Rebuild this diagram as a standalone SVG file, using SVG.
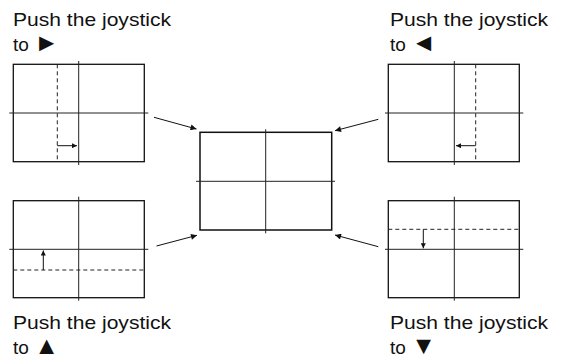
<svg xmlns="http://www.w3.org/2000/svg" width="561" height="358" viewBox="0 0 561 358">
<style>
.frame{fill:none;stroke:#111;stroke-width:1.3}
.cross{stroke:#222;stroke-width:1;fill:none}
.dash{stroke:#222;stroke-width:1;stroke-dasharray:4 3;fill:none}
.conn{stroke:#111;stroke-width:1;fill:none}
.lbl{font-family:"Liberation Sans",Arial,sans-serif;font-size:19px;fill:#111}
.tri{font-size:25px}
</style>
<defs>
<marker id="ah" viewBox="0 0 10 10" refX="10" refY="5" markerWidth="8" markerHeight="6" markerUnits="userSpaceOnUse" orient="auto">
<path d="M0,0 L10,5 L0,10 z" fill="#111"/>
</marker>
<marker id="sh" viewBox="0 0 10 10" refX="10" refY="5" markerWidth="7" markerHeight="5" markerUnits="userSpaceOnUse" orient="auto">
<path d="M0,0 L10,5 L0,10 z" fill="#111"/>
</marker>
</defs>
<rect width="561" height="358" fill="#fff"/>

<g id="screen-right">
<text class="lbl" x="13" y="26" textLength="158" lengthAdjust="spacingAndGlyphs">Push the joystick</text>
<text class="lbl" x="13" y="51">to <tspan class="tri">►</tspan></text>
<rect class="frame" x="13.3" y="64.3" width="131" height="97.4"/>
<line class="cross" x1="78.7" y1="61" x2="78.7" y2="165"/>
<line class="cross" x1="9.3" y1="113" x2="148.3" y2="113"/>
<line class="dash" x1="57.3" y1="64.3" x2="57.3" y2="161.7"/>
<line class="conn" x1="57.3" y1="145.7" x2="77" y2="145.7" marker-end="url(#sh)"/>
</g>

<g id="screen-left">
<text class="lbl" x="390" y="26" textLength="158" lengthAdjust="spacingAndGlyphs">Push the joystick</text>
<text class="lbl" x="390" y="51">to <tspan class="tri">◄</tspan></text>
<rect class="frame" x="388.3" y="64.3" width="131" height="97.4"/>
<line class="cross" x1="454.3" y1="61" x2="454.3" y2="165"/>
<line class="cross" x1="385" y1="113" x2="523.3" y2="113"/>
<line class="dash" x1="475.7" y1="64.3" x2="475.7" y2="161.7"/>
<line class="conn" x1="475.7" y1="145.7" x2="456" y2="145.7" marker-end="url(#sh)"/>
</g>

<g id="screen-up">
<rect class="frame" x="13.3" y="200.7" width="131" height="97"/>
<line class="cross" x1="78.7" y1="196.7" x2="78.7" y2="300.7"/>
<line class="cross" x1="9.3" y1="249.3" x2="148.3" y2="249.3"/>
<line class="dash" x1="13.3" y1="270" x2="144.3" y2="270"/>
<line class="conn" x1="43.3" y1="270" x2="43.3" y2="250.5" marker-end="url(#sh)"/>
<text class="lbl" x="13" y="329" textLength="158" lengthAdjust="spacingAndGlyphs">Push the joystick</text>
<text class="lbl" x="13" y="354">to <tspan class="tri">▲</tspan></text>
</g>

<g id="screen-down">
<rect class="frame" x="388.3" y="200.7" width="131" height="97"/>
<line class="cross" x1="454.3" y1="196.7" x2="454.3" y2="300.7"/>
<line class="cross" x1="385" y1="249.3" x2="523.3" y2="249.3"/>
<line class="dash" x1="388.3" y1="229.3" x2="519.3" y2="229.3"/>
<line class="conn" x1="423.3" y1="229.3" x2="423.3" y2="248.3" marker-end="url(#sh)"/>
<text class="lbl" x="390" y="329" textLength="158" lengthAdjust="spacingAndGlyphs">Push the joystick</text>
<text class="lbl" x="390" y="354">to <tspan class="tri">▼</tspan></text>
</g>

<g id="screen-center">
<rect class="frame" x="200" y="132.3" width="131.7" height="97.7" style="stroke-width:1.5"/>
<line class="cross" x1="265.7" y1="129.3" x2="265.7" y2="233.3"/>
<line class="cross" x1="196" y1="181.3" x2="335" y2="181.3"/>
</g>

<g id="connectors">
<line class="conn" x1="154" y1="117.3" x2="196.5" y2="129" marker-end="url(#ah)"/>
<line class="conn" x1="378.3" y1="119.3" x2="335" y2="130.7" marker-end="url(#ah)"/>
<line class="conn" x1="156.5" y1="246" x2="197" y2="235.3" marker-end="url(#ah)"/>
<line class="conn" x1="378.3" y1="246.7" x2="335" y2="235" marker-end="url(#ah)"/>
</g>
</svg>
